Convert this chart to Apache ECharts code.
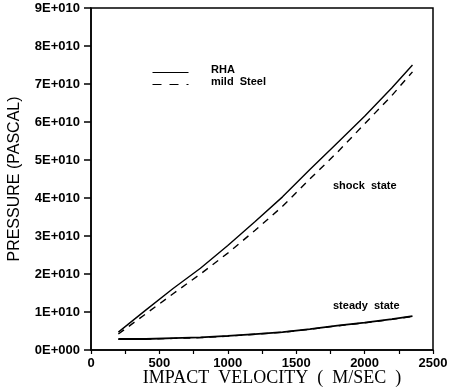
<!DOCTYPE html>
<html><head><meta charset="utf-8">
<script src="https://cdn.jsdelivr.net/npm/echarts@6/dist/echarts.min.js"></script>
<style>html,body{margin:0;padding:0;background:#fff}#c{width:454px;height:391px}</style>
</head><body><div id="c"></div>
<script>
const velocity = [200, 400, 600, 800, 1000, 1200, 1400, 1600, 1800, 2000, 2200, 2350];
const rhaShock = [0.47e10, 1.05e10, 1.62e10, 2.15e10, 2.75e10, 3.38e10, 4.03e10, 4.75e10, 5.45e10, 6.15e10, 6.9e10, 7.5e10];
const steelShock = [0.42e10, 0.95e10, 1.48e10, 2.0e10, 2.55e10, 3.15e10, 3.78e10, 4.5e10, 5.2e10, 5.95e10, 6.7e10, 7.32e10];
const rhaSteady = [0.29e10, 0.29e10, 0.31e10, 0.33e10, 0.37e10, 0.42e10, 0.47e10, 0.55e10, 0.64e10, 0.72e10, 0.81e10, 0.89e10];
const steelSteady = [0.28e10, 0.285e10, 0.305e10, 0.325e10, 0.365e10, 0.415e10, 0.465e10, 0.545e10, 0.635e10, 0.715e10, 0.805e10, 0.885e10];
const xTicks = [0, 500, 1000, 1500, 2000, 2500];
const yTicks = [0, 1e10, 2e10, 3e10, 4e10, 5e10, 6e10, 7e10, 8e10, 9e10];
const legendNames = ['RHA', 'mild Steel'];

const pair = (xs, ys) => xs.map((x, i) => [x, ys[i]]);
const chart = echarts.init(document.getElementById('c'));
const tickFont = {color: '#000', fontFamily: 'Liberation Sans', fontWeight: 'bold', fontSize: 13};
chart.setOption({
  animation: false,
  grid: {left: 91, right: 21, top: 8, bottom: 41, show: true, borderColor: '#000', borderWidth: 1.5, outerBoundsMode: 'none', containLabel: false},
  xAxis: {
    type: 'value', min: xTicks[0], max: xTicks[xTicks.length - 1], interval: 500,
    name: 'IMPACT  VELOCITY  (  M/SEC  )', nameLocation: 'middle', nameGap: 19, nameMoveOverlap: false,
    nameTextStyle: {color: '#000', fontFamily: 'Liberation Serif', fontSize: 18, padding: [0, 0, 0, 20]},
    axisLine: {show: true, lineStyle: {color: '#000', width: 1.5}},
    axisTick: {show: true, inside: false, length: 4, lineStyle: {color: '#000', width: 1.2}},
    minorTick: {show: true, splitNumber: 2, length: 4, lineStyle: {color: '#000', width: 1.2}},
    axisLabel: Object.assign({margin: 7, formatter: v => String(v)}, tickFont),
    splitLine: {show: false}
  },
  yAxis: {
    type: 'value', min: yTicks[0], max: yTicks[yTicks.length - 1], interval: 1e10,
    name: 'PRESSURE (PASCAL)', nameLocation: 'middle', nameGap: 68, nameRotate: 90, nameMoveOverlap: false,
    nameTextStyle: {color: '#000', fontFamily: 'Liberation Sans', fontSize: 16},
    axisLine: {show: true, lineStyle: {color: '#000', width: 1.5}},
    axisTick: {show: true, inside: false, length: 7, lineStyle: {color: '#000', width: 1.5}},
    axisLabel: Object.assign({margin: 11, formatter: v => v === 0 ? '0E+000' : Math.round(v / 1e10) + 'E+010'}, tickFont),
    splitLine: {show: false}
  },
  series: [
    {name: 'RHA', type: 'line', data: pair(velocity, rhaShock), showSymbol: false, lineStyle: {color: '#000', width: 1.4, type: 'solid'}},
    {name: 'mild Steel', type: 'line', data: pair(velocity, steelShock), showSymbol: false, lineStyle: {color: '#000', width: 1.4, type: [7, 6]}},
    {name: 'RHA', type: 'line', data: pair(velocity, rhaSteady), showSymbol: false, lineStyle: {color: '#000', width: 1.8, type: 'solid'}},
    {name: 'mild Steel', type: 'line', data: pair(velocity, steelSteady), showSymbol: false, lineStyle: {color: '#000', width: 1.4, type: [7, 6]}}
  ],
  graphic: [
    {type: 'line', left: 150, top: 70, shape: {x1: 0, y1: 0, x2: 36, y2: 0}, style: {stroke: '#000', lineWidth: 1.2}},
    {type: 'line', left: 150, top: 82, shape: {x1: 0, y1: 0, x2: 36, y2: 0}, style: {stroke: '#000', lineWidth: 1.2, lineDash: [9, 8]}},
    {type: 'text', left: 211, top: 64, style: {text: legendNames[0], fill: '#000', font: 'bold 11px "Liberation Sans"'}},
    {type: 'text', left: 211, top: 76, style: {text: legendNames[1].replace(' ', '  '), fill: '#000', font: 'bold 11px "Liberation Sans"'}},
    {type: 'text', left: 333, top: 180, style: {text: 'shock  state', fill: '#000', font: 'bold 11px "Liberation Sans"'}},
    {type: 'text', left: 333, top: 300, style: {text: 'steady  state', fill: '#000', font: 'bold 11px "Liberation Sans"'}}
  ]
});
</script></body></html>
